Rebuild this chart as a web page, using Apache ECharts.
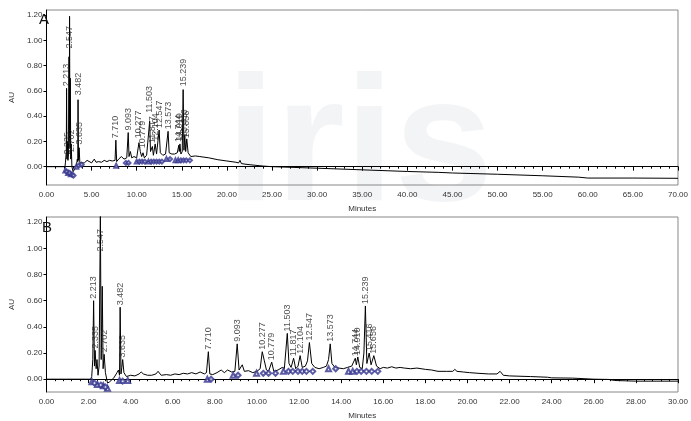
<!DOCTYPE html>
<html><head><meta charset="utf-8">
<script src="https://cdn.jsdelivr.net/npm/echarts@6/dist/echarts.min.js"></script>
<style>html,body{margin:0;padding:0;background:#fff}#c{width:691px;height:421px}</style>
</head><body><div id="c"></div>
<script>
// ---- Panel A trace (time min, AU)
var traceA = [
[0,0],[2.05,0],[2.10,0.03],[2.20,0.12],[2.23,0.62],[2.27,0.06],[2.32,0.20],[2.38,0.05],[2.44,0.10],[2.50,0.87],[2.53,0.2],[2.56,1.19],[2.60,0.15],[2.64,0.70],[2.69,0.06],[2.74,0.18],[2.82,0.0],[2.95,-0.04],[3.10,-0.03],[3.30,0.0],[3.42,0.06],[3.47,0.04],[3.50,0.53],[3.55,0.05],[3.62,0.15],[3.70,0.03],[3.90,0.02],
[4.20,0.03],[4.50,0.05],[4.70,0.035],[5.00,0.03],[5.30,0.06],[5.50,0.035],[5.80,0.04],[6.10,0.035],[6.40,0.05],[6.70,0.04],[7.00,0.05],[7.30,0.045],[7.60,0.05],[7.69,0.21],[7.78,0.04],[8.00,0.06],[8.30,0.08],[8.60,0.06],[8.90,0.07],[9.06,0.27],[9.15,0.08],[9.30,0.12],[9.45,0.07],[9.70,0.08],[10.00,0.07],[10.25,0.19],[10.40,0.12],[10.55,0.08],[10.70,0.11],[10.85,0.07],[11.10,0.09],[11.25,0.10],[11.44,0.36],[11.53,0.12],[11.74,0.16],[11.85,0.09],[12.05,0.18],[12.20,0.10],[12.49,0.29],[12.62,0.11],[12.90,0.09],[13.20,0.10],[13.48,0.28],[13.60,0.11],[13.90,0.10],[14.20,0.10],[14.50,0.11],[14.67,0.17],[14.72,0.12],[14.79,0.18],[14.90,0.10],[15.05,0.12],[15.15,0.61],[15.24,0.13],[15.33,0.25],[15.43,0.12],[15.55,0.22],[15.70,0.11],[16.00,0.08],[16.50,0.085],[17.00,0.08],[18.00,0.07],[19.00,0.055],[20.00,0.045],[21.00,0.035],[21.30,0.03],[21.45,0.05],[21.60,0.025],[22.00,0.02],[23.00,0.012],[24.00,0.005],[25.00,0.0],[30.00,-0.012],[35.00,-0.025],[40.00,-0.038],[43.50,-0.045],[45.00,-0.05],[50.00,-0.06],[55.00,-0.072],[59.00,-0.083],[60.00,-0.09],[65.00,-0.09],[70.00,-0.092]
];
// ---- Panel B trace
var traceB = [
[0,0],[2.10,0],[2.15,0.02],[2.20,0.15],[2.24,0.60],[2.28,0.10],[2.31,0.22],[2.36,0.08],[2.40,0.15],[2.45,0.03],[2.50,0.10],[2.56,1.25],[2.60,0.15],[2.65,0.71],[2.69,0.08],[2.74,0.19],[2.80,0.05],[2.90,-0.03],[3.00,-0.02],[3.20,0.01],[3.35,0.05],[3.42,0.07],[3.47,0.03],[3.50,0.55],[3.54,0.04],[3.58,0.09],[3.62,0.15],[3.68,0.05],[3.80,0.02],[4.00,0.03],
[4.20,0.025],[4.40,0.04],[4.50,0.055],[4.60,0.04],[4.80,0.03],[5.00,0.03],[5.20,0.04],[5.30,0.06],[5.45,0.03],[5.70,0.035],[5.90,0.03],[6.10,0.04],[6.30,0.035],[6.50,0.045],[6.70,0.04],[6.90,0.05],[7.10,0.04],[7.30,0.055],[7.50,0.04],[7.60,0.05],[7.69,0.21],[7.76,0.04],[7.90,0.035],[8.10,0.05],[8.30,0.07],[8.45,0.05],[8.60,0.07],[8.80,0.055],[8.95,0.06],[9.06,0.27],[9.15,0.07],[9.30,0.11],[9.40,0.06],[9.60,0.065],[9.80,0.05],[10.00,0.06],[10.15,0.08],[10.25,0.21],[10.35,0.14],[10.45,0.07],[10.55,0.06],[10.70,0.13],[10.80,0.06],[11.00,0.07],[11.20,0.09],[11.30,0.08],[11.44,0.35],[11.52,0.12],[11.62,0.09],[11.74,0.16],[11.84,0.08],[11.95,0.10],[12.05,0.18],[12.15,0.09],[12.30,0.10],[12.40,0.14],[12.49,0.28],[12.60,0.12],[12.75,0.09],[12.95,0.08],[13.15,0.09],[13.30,0.10],[13.40,0.15],[13.48,0.27],[13.56,0.12],[13.70,0.09],[13.90,0.085],[14.10,0.08],[14.30,0.09],[14.50,0.10],[14.67,0.16],[14.72,0.11],[14.79,0.17],[14.88,0.09],[15.00,0.08],[15.08,0.20],[15.15,0.56],[15.22,0.12],[15.33,0.20],[15.42,0.11],[15.55,0.18],[15.68,0.10],[15.85,0.08],[16.00,0.09],[16.20,0.085],[16.40,0.095],[16.60,0.085],[16.80,0.09],[17.00,0.085],[17.30,0.08],[17.60,0.085],[18.00,0.075],[18.30,0.07],[18.60,0.06],[19.00,0.06],[19.30,0.06],[19.40,0.075],[19.50,0.06],[19.80,0.055],[20.10,0.05],[20.50,0.045],[21.00,0.04],[21.40,0.04],[21.55,0.06],[21.70,0.03],[22.00,0.025],[23.00,0.02],[23.80,0.015],[24.00,0.01],[25.00,0.008],[26.00,0.0],[26.70,-0.002],[27.00,-0.01],[28.00,-0.015],[29.00,-0.015],[30.00,-0.015]
];
// ---- Peak labels [time, AU at label base, text]
var peaksA = [
[2.23,0.62,'2.213'],[2.30,0.08,'2.335'],[2.56,0.92,'2.547'],[2.74,0.10,'2.702'],[3.50,0.55,'3.482'],[3.62,0.16,'3.635'],
[7.69,0.21,'7.710'],[9.06,0.27,'9.093'],[10.25,0.21,'10.277'],[10.70,0.13,'10.779'],[11.44,0.41,'11.503'],[11.74,0.17,'11.817'],[12.05,0.19,'12.104'],[12.49,0.29,'12.547'],[13.48,0.28,'13.573'],[14.67,0.18,'14.744'],[14.79,0.19,'14.910'],[15.15,0.62,'15.239'],[15.33,0.22,'15.416'],[15.55,0.21,'15.656']
];
var peaksB = [
[2.24,0.60,'2.213'],[2.31,0.22,'2.335'],[2.56,0.96,'2.547'],[2.74,0.19,'2.702'],[3.50,0.55,'3.482'],[3.62,0.15,'3.635'],
[7.69,0.21,'7.710'],[9.06,0.27,'9.093'],[10.25,0.21,'10.277'],[10.70,0.13,'10.779'],[11.44,0.35,'11.503'],[11.74,0.16,'11.817'],[12.05,0.18,'12.104'],[12.49,0.28,'12.547'],[13.48,0.27,'13.573'],[14.67,0.16,'14.744'],[14.79,0.17,'14.910'],[15.15,0.56,'15.239'],[15.33,0.20,'15.416'],[15.55,0.18,'15.656']
];
// ---- Integration markers
var startA = [[2.10,-0.03],[2.40,-0.05],[2.70,-0.06],[3.30,0.0],[7.73,0.008],[10.0,0.04],[11.3,0.04],[13.3,0.06],[14.3,0.05],[14.6,0.05]];
var endA = [[2.25,-0.04],[2.55,-0.05],[2.85,-0.065],[3.0,-0.07],[3.6,0.01],[3.9,0.015],[8.8,0.03],[9.1,0.03],[10.3,0.04],[10.6,0.04],[10.9,0.04],[11.6,0.04],[11.9,0.04],[12.2,0.04],[12.5,0.04],[12.8,0.04],[13.7,0.06],[14.9,0.05],[15.2,0.05],[15.5,0.05],[15.9,0.05]];
var startB = [[2.16,-0.02],[2.42,-0.04],[2.70,-0.05],[2.90,-0.07],[3.47,-0.01],[3.86,-0.01],[7.64,0.0],[8.87,0.03],[9.98,0.045],[11.26,0.06],[13.40,0.08],[14.35,0.06],[14.55,0.06]];
var endB = [[2.28,-0.03],[2.58,-0.045],[2.80,-0.06],[3.62,-0.015],[7.82,0.0],[9.10,0.03],[10.30,0.045],[10.55,0.045],[10.88,0.045],[11.50,0.06],[11.70,0.06],[11.95,0.06],[12.15,0.06],[12.35,0.06],[12.65,0.06],[13.74,0.08],[14.75,0.06],[14.95,0.06],[15.20,0.06],[15.45,0.06],[15.74,0.06]];
// ---- Tick values
var yTicks = [0,0.2,0.4,0.6,0.8,1.0,1.2];

var FONT = 'Liberation Sans, Arial, sans-serif';
var NAVY = '#33338f';
function xAx(idx, max, step){
  return {gridIndex: idx, type:'value', min:0, max:max, interval:step,
    name:'Minutes', nameLocation:'middle', nameGap:20,
    nameTextStyle:{fontSize:8, color:'#333', fontFamily:FONT},
    axisLine:{lineStyle:{color:'#000', width:1}},
    axisTick:{show:true, length:4, lineStyle:{color:'#000'}},
    minorTick:{show:true, splitNumber:5, length:2, lineStyle:{color:'#000'}},
    splitLine:{show:false},
    axisLabel:{fontSize:8, color:'#333', fontFamily:FONT, margin:6, formatter:function(v){return v.toFixed(2);}}};
}
function yAx(idx, min, max){
  return {gridIndex: idx, type:'value', min:min, max:max,
    name:'AU', nameLocation:'middle', nameGap:24, nameRotate:90,
    nameTextStyle:{fontSize:8, color:'#333', fontFamily:FONT},
    axisLine:{show:true, lineStyle:{color:'#000', width:1}},
    axisTick:{show:true, length:3, customValues:yTicks, lineStyle:{color:'#000'}},
    splitLine:{show:false},
    axisLabel:{fontSize:8, color:'#333', fontFamily:FONT, margin:4, customValues:yTicks, formatter:function(v){return v.toFixed(2);}}};
}
function labelSeries(idx, data){
  return {type:'scatter', xAxisIndex:idx, yAxisIndex:idx, symbolSize:0, silent:true, z:5,
    data: data.map(function(p){return {value:[p[0],p[1]], name:p[2]};}),
    label:{show:true, formatter:'{b}', position:'top', distance:2, rotate:90, align:'left', verticalAlign:'middle',
      fontSize:9, color:'#222', fontFamily:FONT}};
}
function markSeries(idx, data, sym, size){
  return {type:'scatter', xAxisIndex:idx, yAxisIndex:idx, symbol:sym, symbolSize:size, silent:true, z:4,
    itemStyle:{color:NAVY, borderColor:NAVY, borderWidth:0.8}, data:data};
}
function traceSeries(idx, data){
  return {type:'line', xAxisIndex:idx, yAxisIndex:idx, data:data, showSymbol:false, symbol:'none', silent:true, z:3,
    lineStyle:{color:'#000', width:1}, clip:true};
}
var chart = echarts.init(document.getElementById('c'), null, {renderer:'canvas'});
chart.setOption({
  animation:false,
  backgroundColor:'#fff',
  graphic:[
    {type:'text', left:226, top:62, z:-10, style:{text:'iris', fontSize:178, fontWeight:'bold', fontFamily:FONT, fill:'rgba(120,130,150,0.085)'}},
    {type:'text', left:39, top:12, z:10, style:{text:'A', fontSize:15, fontFamily:FONT, fill:'#111'}},
    {type:'text', left:42, top:220, z:10, style:{text:'B', fontSize:15, fontFamily:FONT, fill:'#111'}}
  ],
  grid:[
    {left:35, right:7, top:10, height:175, show:true, borderColor:'#888', borderWidth:1},
    {left:35, right:7, top:217, height:177, show:true, borderColor:'#888', borderWidth:1}
  ],
  xAxis:[xAx(0,70,5), xAx(1,30,2)],
  yAxis:[yAx(0,-0.145,1.24), yAx(1,-0.098,1.24)],
  series:[
    traceSeries(0, traceA), markSeries(0, startA, 'emptyTriangle', 4), markSeries(0, endA, 'emptyDiamond', 4), labelSeries(0, peaksA),
    traceSeries(1, traceB), markSeries(1, startB, 'emptyTriangle', 5), markSeries(1, endB, 'emptyDiamond', 5), labelSeries(1, peaksB)
  ]
});
</script></body></html>
